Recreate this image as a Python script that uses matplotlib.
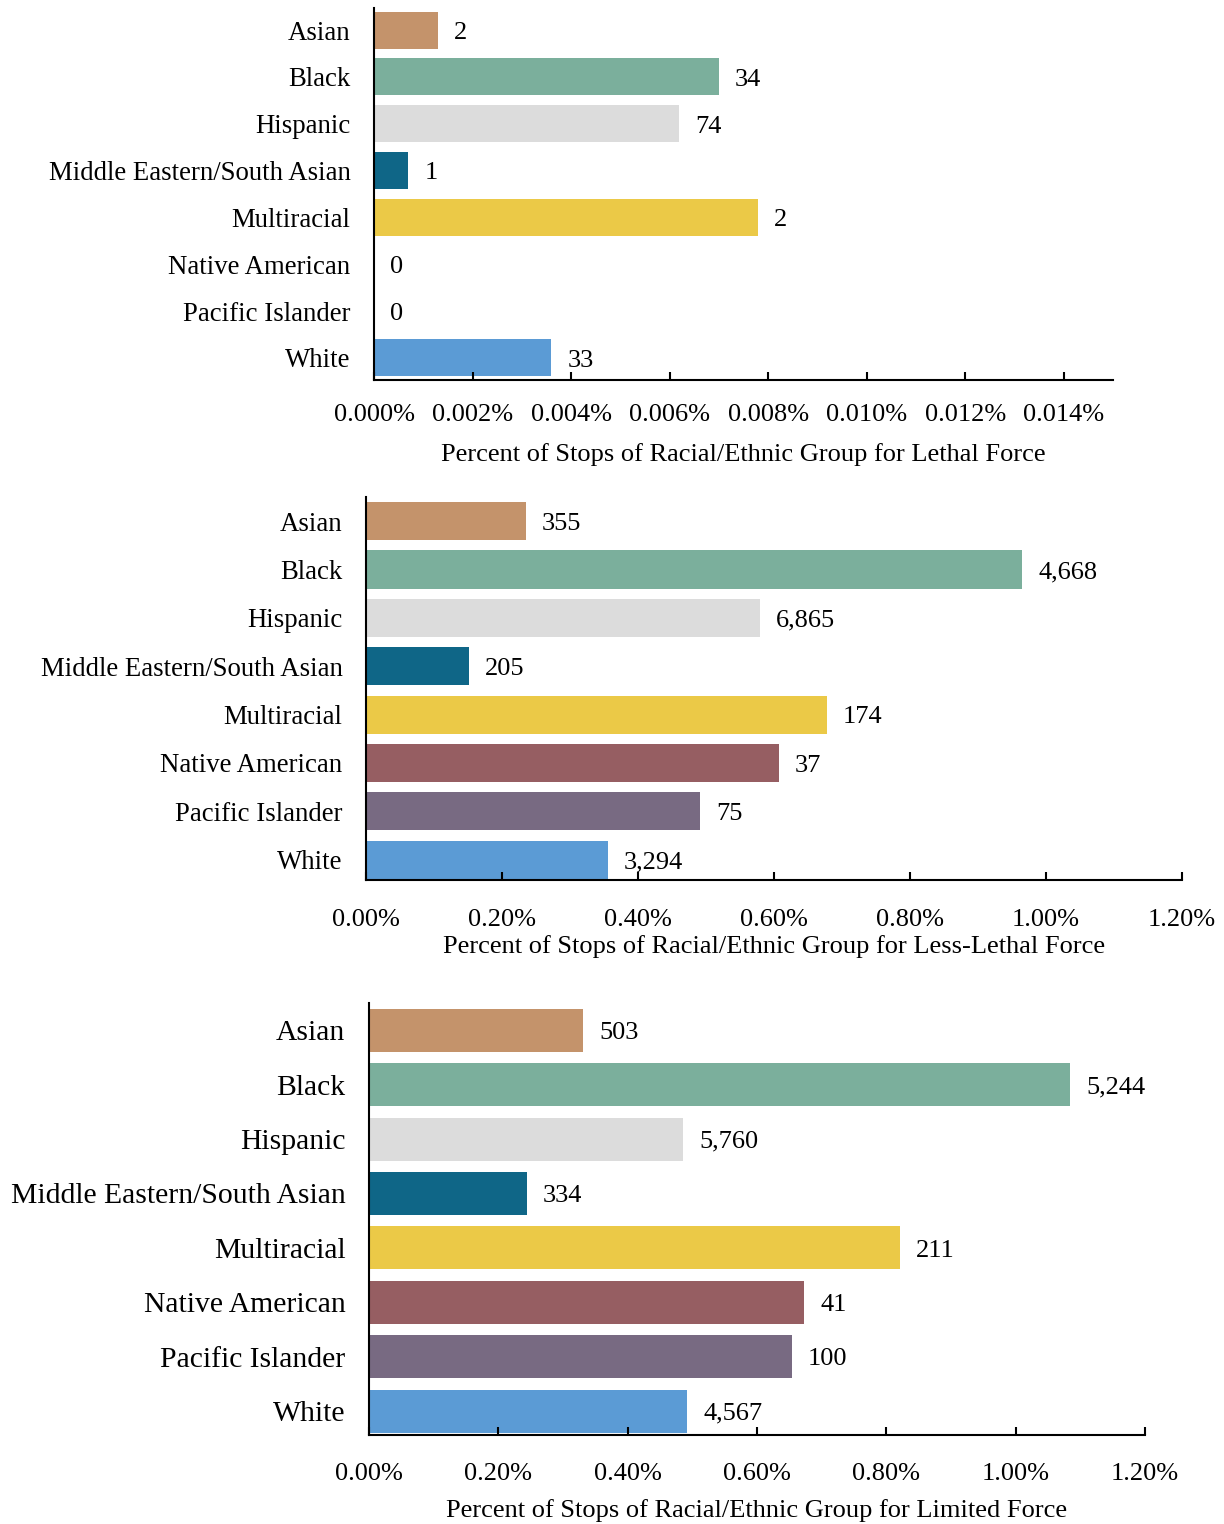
import matplotlib
matplotlib.use("Agg")
import matplotlib.pyplot as plt
from matplotlib.ticker import FuncFormatter, MultipleLocator

plt.rcParams['font.family'] = ['Liberation Serif', 'DejaVu Serif']

categories = ["Asian", "Black", "Hispanic", "Middle Eastern/South Asian",
              "Multiracial", "Native American", "Pacific Islander", "White"]
colors = ["#C4936B", "#7BAF9C", "#DCDCDC", "#0F6687",
          "#EBC947", "#965E62", "#786A82", "#5B9BD5"]

lethal_pct = [0.0013, 0.0070, 0.0062, 0.0007, 0.0078, 0.0, 0.0, 0.0036]
lethal_n = [2, 34, 74, 1, 2, 0, 0, 33]

less_lethal_pct = [0.235, 0.965, 0.579, 0.151, 0.678, 0.607, 0.491, 0.356]
less_lethal_n = [355, 4668, 6865, 205, 174, 37, 75, 3294]

limited_pct = [0.331, 1.084, 0.486, 0.244, 0.821, 0.673, 0.654, 0.492]
limited_n = [503, 5244, 5760, 334, 211, 41, 100, 4567]

W, H = 1224, 1524
fig = plt.figure(figsize=(W / 100, H / 100), dpi=100)


def box(l, r, t, b):
    return [l / W, 1 - b / H, (r - l) / W, (b - t) / H]


panels = [
    dict(rect=box(374, 1113, 8, 380), pct=lethal_pct, n=lethal_n, xmax=0.015, step=0.002,
         fmt="{:.3f}%", xlabel="Percent of Stops of Racial/Ethnic Group for Lethal Force",
         ylim=(7.47, -0.47), catsize=19.3, ticksize=19, pad=17.5, labelpad=12.3),
    dict(rect=box(366, 1182, 497, 880), pct=less_lethal_pct, n=less_lethal_n, xmax=1.2, step=0.2,
         fmt="{:.2f}%", xlabel="Percent of Stops of Racial/Ethnic Group for Less-Lethal Force",
         ylim=(7.42, -0.5), catsize=19.3, ticksize=19, pad=20.8, labelpad=3),
    dict(rect=box(369, 1145, 1003, 1435), pct=limited_pct, n=limited_n, xmax=1.2, step=0.2,
         fmt="{:.2f}%", xlabel="Percent of Stops of Racial/Ethnic Group for Limited Force",
         ylim=(7.44, -0.5), catsize=21.3, ticksize=19, pad=19.8, labelpad=10.2),
]

for p in panels:
    ax = fig.add_axes(p["rect"])
    y = list(range(len(categories)))
    ax.barh(y, p["pct"], height=0.79, color=colors)
    for yi, v, n in zip(y, p["pct"], p["n"]):
        ax.annotate(f"{n:,}", xy=(v, yi), xytext=(11.5, -2), textcoords="offset points",
                    va="center", ha="left", fontsize=19)
    ax.set_xlim(0, p["xmax"])
    ax.set_ylim(*p["ylim"])
    ax.set_yticks(y)
    ax.set_yticklabels(categories, fontsize=p["catsize"])
    ax.tick_params(axis="y", length=0, pad=17)
    ax.xaxis.set_major_locator(MultipleLocator(p["step"]))
    ax.xaxis.set_major_formatter(FuncFormatter(lambda x, pos, f=p["fmt"]: f.format(x)))
    ax.tick_params(axis="x", direction="in", length=6, width=1.5, labelsize=p["ticksize"],
                   pad=p["pad"])
    for s in ["top", "right"]:
        ax.spines[s].set_visible(False)
    for s in ["left", "bottom"]:
        ax.spines[s].set_linewidth(1.5)
    ax.set_xlabel(p["xlabel"], fontsize=19, labelpad=p["labelpad"])

fig.savefig("out.png", dpi=100)
